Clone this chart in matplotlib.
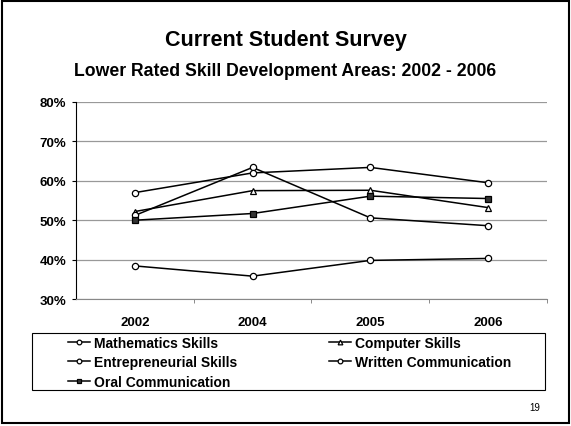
import matplotlib.pyplot as plt
from matplotlib.patches import Rectangle

plt.rcParams['font.family'] = ['Liberation Sans', 'DejaVu Sans']

years = ['2002', '2004', '2005', '2006']
math_skills = [38.4, 35.8, 39.8, 40.3]
computer_skills = [52.2, 57.5, 57.6, 53.2]
entrepreneurial = [51.2, 63.4, 50.6, 48.6]
written_comm = [57.0, 62.0, 63.4, 59.5]
oral_comm = [50.0, 51.7, 56.1, 55.5]
y_ticks = [30, 40, 50, 60, 70, 80]

fig = plt.figure(figsize=(5.71, 4.27), dpi=100)
ax = fig.add_axes([0.133, 0.2974, 0.825, 0.4614])

x = range(len(years))
style = dict(color='black', linewidth=1.1, markersize=4.5, markeredgewidth=0.9)
l_math, = ax.plot(x, math_skills, marker='o', markerfacecolor='white', label='Mathematics Skills', **style)
l_comp, = ax.plot(x, computer_skills, marker='^', markerfacecolor='white', label='Computer Skills', **style)
l_ent, = ax.plot(x, entrepreneurial, marker='o', markerfacecolor='white', label='Entrepreneurial Skills', **style)
l_wri, = ax.plot(x, written_comm, marker='o', markerfacecolor='white', label='Written Communication', **style)
l_oral, = ax.plot(x, oral_comm, marker='s', markerfacecolor='#333333', label='Oral Communication', **style)

ax.set_xlim(-0.5, len(years) - 0.5)
ax.set_ylim(30, 80)
ax.set_yticks(y_ticks)
ax.set_yticklabels([f'{v}%' for v in y_ticks], fontsize=9.5, fontweight='bold')
ax.set_xticks(list(x))
ax.set_xticklabels(years, fontsize=9.5, fontweight='bold')
ax.tick_params(axis='x', length=0, pad=12)
ax.set_xticks([i + 0.5 for i in range(len(years))], minor=True)
ax.tick_params(axis='x', which='minor', length=3, color='#777777')
ax.tick_params(axis='y', length=3, pad=4)
ax.yaxis.grid(True, color='#999999', linewidth=0.9)
ax.set_axisbelow(True)
for s in ['top', 'right']:
    ax.spines[s].set_visible(False)
ax.spines['bottom'].set_color('#888888')
ax.spines['left'].set_color('black')

fig.text(0.5, 0.905, 'Current Student Survey', ha='center', va='center',
         fontsize=15.5, fontweight='bold')
fig.text(0.5, 0.832, 'Lower Rated Skill Development Areas: 2002 - 2006', ha='center',
         va='center', fontsize=12.7, fontweight='bold')

# legend box
fig.patches.append(Rectangle((32 / 571, 1 - 391 / 427), 513 / 571, 57 / 427,
                             transform=fig.transFigure, fill=False,
                             edgecolor='black', linewidth=0.8))
leg_kw = dict(frameon=False, prop={'weight': 'bold', 'size': 10},
              handlelength=1.6, handletextpad=0.3, labelspacing=0.38,
              borderaxespad=0, borderpad=0, markerscale=0.75)
leg1 = fig.legend(handles=[l_math, l_ent, l_oral], loc='upper left',
                  bbox_to_anchor=(68 / 571, 1 - 337 / 427), **leg_kw)
leg2 = fig.legend(handles=[l_comp, l_wri], loc='upper left',
                  bbox_to_anchor=(329 / 571, 1 - 337 / 427), **leg_kw)

fig.text(535 / 571, 1 - 408 / 427, '19', ha='center', va='center', fontsize=7)

# slide frame
fig.patches.append(Rectangle((0.004, 0.006), 0.992, 0.99, transform=fig.transFigure,
                             fill=False, edgecolor='black', linewidth=1.5))

fig.savefig('out.png', dpi=100)
